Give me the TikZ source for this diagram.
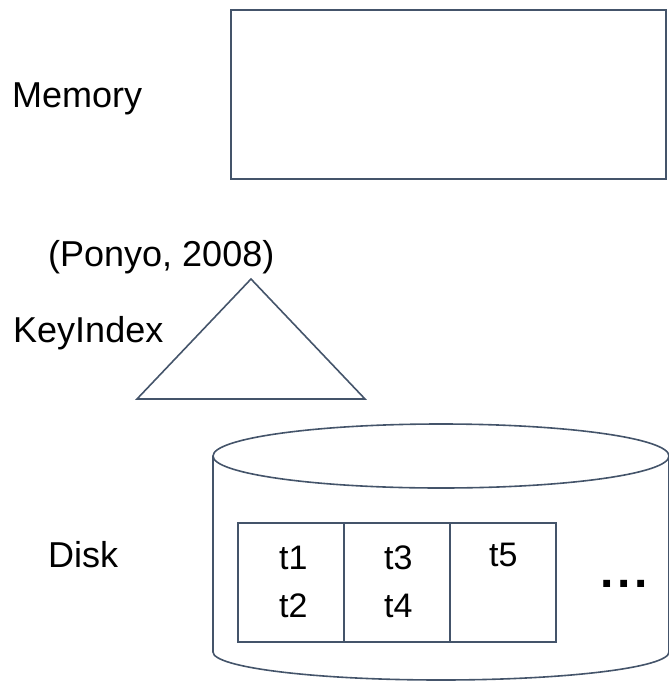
\documentclass[tikz,border=0pt]{standalone}
\usepackage{fontspec}
\setmainfont{Liberation Sans}
\definecolor{edge}{HTML}{44546A}
\tikzset{
  x=1pt, y=-1pt,
  outline/.style={draw=edge, line width=1.6pt},
  label/.style={font=\fontsize{36}{40}\selectfont, inner sep=0pt, text=black, anchor=base west},
  cell/.style={outline, minimum width=106pt, minimum height=119pt, inner sep=0pt, anchor=north west},
  entry/.style={font=\fontsize{34}{38}\selectfont, inner sep=0pt, text=black, anchor=base west}
}
\begin{document}
\begin{tikzpicture}
\useasboundingbox (0,0) rectangle (669,683);

% memory
\node[label] (memlabel) at (12,107) {Memory};
\node[outline, minimum width=435pt, minimum height=169pt, anchor=north west] (mem) at (230,9) {};

% key index
\node[label] (ponyo) at (48,266) {(Ponyo, 2008)};
\node[label] (keylabel) at (13,342) {KeyIndex};
\coordinate (apex) at (251,279);
\coordinate (bl) at (137,399);
\coordinate (br) at (365,399);
\draw[outline, line join=miter] (apex) -- (br) -- (bl) -- cycle;

% disk cylinder
\node[label] (disklabel) at (48,567) {Disk};
\coordinate (ctop) at (441,456);
\draw[outline] (ctop) ellipse [x radius=228pt, y radius=32pt];
\draw[outline] (213,456) -- (213,652) arc[start angle=180, end angle=360, x radius=228pt, y radius=28pt] -- (669,456);

% blocks on disk
\node[cell] (b1) at (237,522) {};
\node[cell] (b2) at (343,522) {};
\node[cell] (b3) at (449,522) {};
\node[entry] (t1) at (279,569) {t1};
\node[entry] (t2) at (279,617) {t2};
\node[entry] (t3) at (384,569) {t3};
\node[entry] (t4) at (384,617) {t4};
\node[entry] (t5) at (489,566) {t5};
\node[font=\fontsize{48}{52}\selectfont\bfseries, inner sep=0pt, anchor=base] (more) at (624,587) {.\kern4pt.\kern4pt.};
\end{tikzpicture}
\end{document}
